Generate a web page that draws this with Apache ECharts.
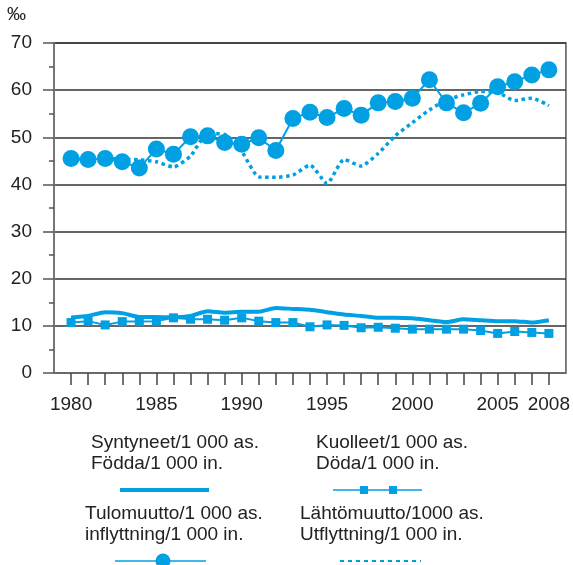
<!DOCTYPE html>
<html>
<head>
<meta charset="utf-8">
<script src="https://cdn.jsdelivr.net/npm/echarts@6/dist/echarts.min.js"></script>
<style>
  html, body { margin: 0; padding: 0; background: #fff; }
  #chart { width: 573px; height: 565px; }
</style>
</head>
<body>
<div id="chart"></div>
<script>
// vuodet / år
const years = [1980, 1981, 1982, 1983, 1984, 1985, 1986, 1987, 1988, 1989,
  1990, 1991, 1992, 1993, 1994, 1995, 1996, 1997, 1998, 1999,
  2000, 2001, 2002, 2003, 2004, 2005, 2006, 2007, 2008];
const xLabelYears = [1980, 1985, 1990, 1995, 2000, 2005, 2008];
const yTicks = [0, 10, 20, 30, 40, 50, 60, 70];

// ‰
const births = [11.8, 12.1, 12.9, 12.7, 11.9, 11.9, 11.8, 12.1, 13.1, 12.8,
  13.0, 13.0, 13.8, 13.6, 13.4, 12.9, 12.4, 12.1, 11.7, 11.7,
  11.6, 11.2, 10.8, 11.4, 11.2, 11.0, 11.0, 10.7, 11.2];
const deaths = [10.7, 11.0, 10.2, 10.9, 10.9, 11.0, 11.7, 11.4, 11.4, 11.2,
  11.7, 11.0, 10.7, 10.7, 9.8, 10.2, 10.1, 9.6, 9.7, 9.5,
  9.3, 9.3, 9.3, 9.3, 9.0, 8.4, 8.8, 8.6, 8.4];
const inMigration = [45.5, 45.3, 45.5, 44.8, 43.5, 47.5, 46.4, 50.1, 50.3, 48.9,
  48.5, 49.9, 47.2, 54.0, 55.3, 54.2, 56.1, 54.7, 57.3, 57.6,
  58.3, 62.2, 57.3, 55.2, 57.2, 60.7, 61.8, 63.2, 64.3];
const outMigration = [45.5, 45.3, 45.5, 45.4, 45.2, 44.8, 43.7, 46.0, 50.8, 50.6,
  47.0, 41.6, 41.5, 42.0, 44.1, 40.2, 45.3, 43.9, 46.6, 50.3,
  53.1, 55.8, 57.9, 59.0, 59.7, 59.5, 57.8, 58.3, 56.7];

const seriesNames = [
  ["Syntyneet/1 000 as.", "Födda/1 000 in."],
  ["Kuolleet/1 000 as.", "Döda/1 000 in."],
  ["Tulomuutto/1 000 as.", "inflyttning/1 000 in."],
  ["Lähtömuutto/1000 as.", "Utflyttning/1 000 in."]
];

const blue = "#00a0e3";
const font = "'Liberation Sans', Arial, sans-serif";

function pairs(values) {
  return years.map((y, i) => [y, values[i]]);
}

const chart = echarts.init(document.getElementById("chart"));

// legend drawn by hand: text above, sample below
function legendText(x, y, lines) {
  return {
    type: "text",
    left: x,
    top: y,
    style: {
      text: lines.join("\n"),
      font: "19px " + font,
      fill: "#222",
      lineHeight: 21
    }
  };
}
function hLine(x1, x2, y, width, dash) {
  return {
    type: "line",
    shape: { x1: x1, y1: y, x2: x2, y2: y },
    style: { stroke: blue, lineWidth: width, lineDash: dash || null }
  };
}

const graphics = [
  {
    type: "text",
    left: 7,
    top: 5,
    style: { text: "‰", font: "19px " + font, fill: "#222" }
  },
  legendText(91, 432, seriesNames[0]),
  hLine(120, 209, 490, 4),
  legendText(316, 432, seriesNames[1]),
  hLine(333, 422, 490, 1.5),
  { type: "rect", shape: { x: 360, y: 486, width: 8, height: 8 }, style: { fill: blue } },
  { type: "rect", shape: { x: 389, y: 486, width: 8, height: 8 }, style: { fill: blue } },
  legendText(85, 503, seriesNames[2]),
  hLine(115, 206, 561, 1.5),
  { type: "circle", shape: { cx: 163, cy: 561, r: 7.5 }, style: { fill: blue } },
  legendText(300, 503, seriesNames[3]),
  hLine(340, 421, 561, 2, [4, 4])
];

const option = {
  animation: false,
  grid: {
    left: 54,
    right: 5,
    top: 43,
    bottom: 192,
    show: true,
    borderColor: "#555",
    borderWidth: 1.5
  },
  xAxis: {
    type: "value",
    min: 1979,
    max: 2009,
    interval: 1,
    axisLine: { show: true, lineStyle: { color: "#777", width: 1.5 } },
    axisTick: {
      show: true,
      length: 12,
      customValues: years,
      lineStyle: { color: "#444", width: 1.5 }
    },
    axisLabel: {
      customValues: xLabelYears,
      formatter: (v) => String(v),
      margin: 22,
      color: "#222",
      fontSize: 19,
      fontFamily: font
    },
    splitLine: { show: false }
  },
  yAxis: {
    type: "value",
    min: yTicks[0],
    max: yTicks[yTicks.length - 1],
    interval: 10,
    axisLine: { show: true, lineStyle: { color: "#777", width: 2 } },
    axisTick: { show: true, length: 11, lineStyle: { color: "#555", width: 1.5 } },
    minorTick: { show: true, splitNumber: 2, length: 5, lineStyle: { color: "#555", width: 1.5 } },
    axisLabel: { margin: 22, color: "#222", fontSize: 19, fontFamily: font },
    splitLine: { show: true, lineStyle: { color: "#333", width: 1.5 } }
  },
  series: [
    {
      name: seriesNames[3].join(" "),
      type: "line",
      data: pairs(outMigration),
      smooth: 0.2,
      symbol: "none",
      lineStyle: { color: blue, width: 3.5, type: [3.5, 3.5] },
      z: 2
    },
    {
      name: seriesNames[2].join(" "),
      type: "line",
      data: pairs(inMigration),
      symbol: "circle",
      symbolSize: 17,
      itemStyle: { color: blue },
      lineStyle: { color: blue, width: 2 },
      z: 3
    },
    {
      name: seriesNames[0].join(" "),
      type: "line",
      data: pairs(births),
      smooth: 0.2,
      symbol: "none",
      lineStyle: { color: blue, width: 4 },
      z: 2
    },
    {
      name: seriesNames[1].join(" "),
      type: "line",
      data: pairs(deaths),
      symbol: "rect",
      symbolSize: 9,
      itemStyle: { color: blue },
      lineStyle: { color: blue, width: 2 },
      z: 3
    }
  ],
  graphic: graphics
};

chart.setOption(option);
</script>
</body>
</html>
